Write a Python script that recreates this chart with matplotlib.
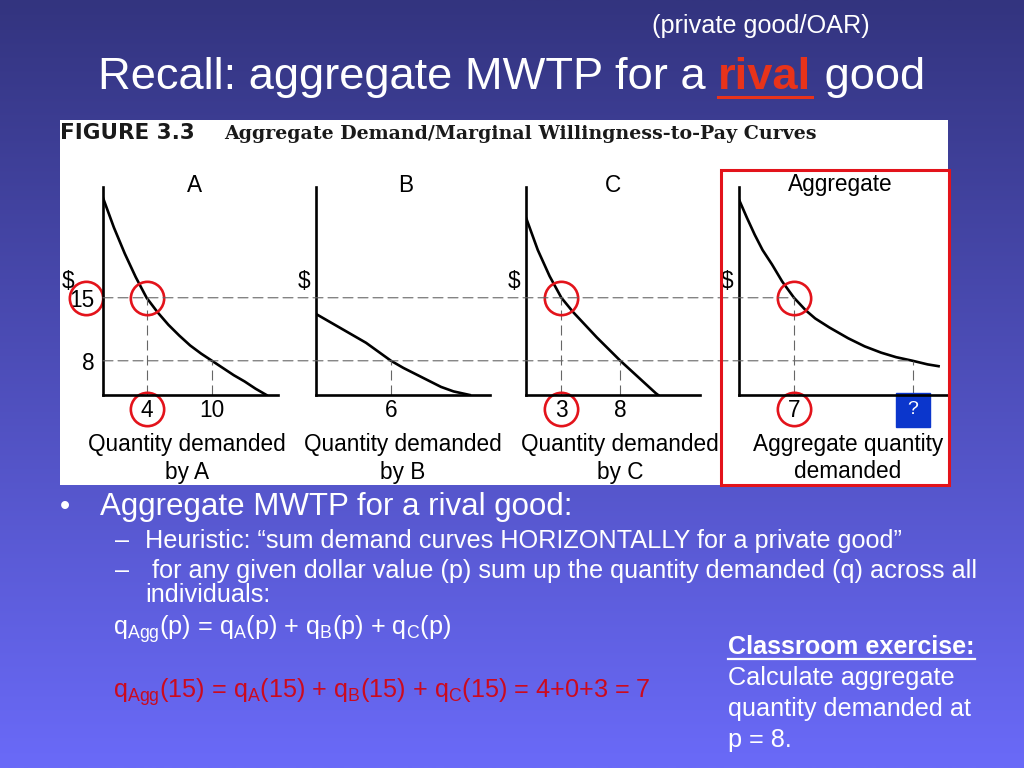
import numpy as np
import matplotlib
matplotlib.use('Agg')
import matplotlib.pyplot as plt
from matplotlib.patches import Rectangle, ConnectionPatch
from matplotlib.lines import Line2D

plt.rcParams['font.family'] = ['Liberation Sans', 'DejaVu Sans']
plt.rcParams['mathtext.fontset'] = 'custom'
plt.rcParams['mathtext.rm'] = 'Liberation Sans'
plt.rcParams['mathtext.it'] = 'Liberation Sans'
plt.rcParams['mathtext.bf'] = 'Liberation Sans:bold'

W, H = 1024, 768


def box(x0, y0, x1, y1):
    # pixel box (top-left origin) -> figure rect
    return [x0 / W, 1 - y1 / H, (x1 - x0) / W, (y1 - y0) / H]


def fx(x):
    return x / W


def fy(y):
    return 1 - y / H


# demand curves: quantity, price
qA = [0, 1, 2, 3, 4, 5, 6, 7, 8, 9, 10, 11, 12, 13, 14, 15]
pA = [26.1, 22.8, 19.9, 17.3, 15.0, 13.4, 12.0, 10.8, 9.7, 8.8, 8.0, 7.2, 6.4, 5.7, 4.9, 4.2]
qB = [0, 1, 2, 3, 4, 5, 6, 7, 8, 9, 10, 11, 12.3]
pB = [13.2, 12.4, 11.6, 10.8, 10.0, 9.0, 8.0, 7.2, 6.5, 5.8, 5.1, 4.6, 4.2]
qC = [0, 1, 2, 3, 4, 5, 6, 7, 8, 9, 10, 11, 11.2]
pC = [23.9, 20.3, 17.4, 15.0, 13.4, 12.0, 10.6, 9.3, 8.0, 6.8, 5.6, 4.4, 4.2]
qAgg = [0, 1, 2, 3, 4.2, 5.5, 7, 8.5, 9.7, 11.5, 13.9, 16, 18.1, 20, 22.1, 24, 25.4]
pAgg = [25.9, 23.9, 22.0, 20.3, 18.7, 16.8, 15.0, 13.6, 12.7, 11.7, 10.5, 9.6, 8.9, 8.4, 8.0, 7.6, 7.4]

panel_names = ['A', 'B', 'C', 'Aggregate']
curves_q = [qA, qB, qC, qAgg]
curves_p = [pA, pB, pC, pAgg]

prices = [15, 8]
q_at_15 = [4, 0, 3, 7]        # quantity demanded at p = 15
q_at_8 = [10, 6, 8, 22.1]     # quantity demanded at p = 8 (aggregate is the unknown)
xtick_labels = [['4', '10'], ['6'], ['3', '8'], ['7', '?']]
xlabels = [['Quantity demanded', 'by A'], ['Quantity demanded', 'by B'],
           ['Quantity demanded', 'by C'], ['Aggregate quantity', 'demanded']]

# layout (pixels)
panel_px = [(103, 187, 278, 395), (316, 187, 490, 395),
            (526, 187, 700, 395), (739, 187, 948, 395)]
x_max = [16.06, 13.92, 14.75, 26.6]
y_lim = (4.2, 27.3)
title_x = [195, 406, 613, 840]
xlabel_x = [187, 403, 620, 848]
dollar_x = [68, 304, 514, 727]

red = '#e3131b'
dash = (0, (9, 4.5))
fs_panel = 16.3
fs_body = 18.2

fig = plt.figure(figsize=(W / 100, H / 100), dpi=100)

# slide background gradient
bg = fig.add_axes([0, 0, 1, 1], zorder=-10)
grad = np.linspace(0, 1, 256)[:, None]
top = np.array([0x33, 0x34, 0x7f]) / 255
bot = np.array([0x6a, 0x6a, 0xf8]) / 255
img = top[None, None, :] * (1 - grad[..., None]) + bot[None, None, :] * grad[..., None]
bg.imshow(img, aspect='auto', extent=[0, 1, 0, 1])
bg.set_xlim(0, 1)
bg.set_ylim(0, 1)
bg.axis('off')

# white figure area
fig.add_artist(Rectangle((fx(60), fy(485)), (948 - 60) / W, (485 - 120) / H,
                         transform=fig.transFigure, facecolor='white',
                         edgecolor='none', zorder=-5))

axes = []
for i, name in enumerate(panel_names):
    ax = fig.add_axes(box(*panel_px[i]))
    ax.patch.set_alpha(0)
    ax.plot(curves_q[i], curves_p[i], color='black', lw=1.9)
    ax.set_xlim(0, x_max[i])
    ax.set_ylim(*y_lim)
    for s in ['top', 'right']:
        ax.spines[s].set_visible(False)
    for s in ['left', 'bottom']:
        ax.spines[s].set_linewidth(1.9)
    # drop lines
    if q_at_15[i] > 0:
        ax.vlines(q_at_15[i], y_lim[0], 15, colors='#666666', lw=0.8, linestyles=[dash])
    ax.vlines(q_at_8[i], y_lim[0], 8, colors='#666666', lw=0.8, linestyles=[dash])
    ticks = [q for q in [q_at_15[i], q_at_8[i]] if q > 0]
    if name == 'Aggregate':
        ax.set_xticks(ticks[:1], xtick_labels[i][:1])
        ax.plot([q_at_8[i]], [-0.072], transform=ax.get_xaxis_transform(), marker='s',
                ms=24, color='#0b36cc', clip_on=False)
        ax.text(q_at_8[i], -0.072, xtick_labels[i][1], transform=ax.get_xaxis_transform(),
                ha='center', va='center', color='white', fontsize=14)
    else:
        ax.set_xticks(ticks, xtick_labels[i])
    if i == 0:
        ax.set_yticks(prices, [str(p) for p in prices])
    else:
        ax.set_yticks([])
    ax.tick_params(length=0, labelsize=fs_panel, pad=3)
    ax.tick_params(axis='y', pad=6)
    # circles
    if i in (0, 2, 3):
        ax.plot([q_at_15[i]], [15], 'o', ms=24, mfc='none', mec=red, mew=1.9, clip_on=False)
        ax.plot([q_at_15[i]], [-0.067], 'o', ms=24, mfc='none', mec=red, mew=1.9,
                transform=ax.get_xaxis_transform(), clip_on=False)
    if i == 0:
        ax.plot([-0.1], [15], 'o', ms=24, mfc='none', mec=red, mew=1.9,
                transform=ax.get_yaxis_transform(), clip_on=False)
    axes.append(ax)

    fig.text(fx(title_x[i]), fy(185), name, ha='center', va='center', fontsize=fs_panel)
    fig.text(fx(dollar_x[i]), fy(281), '\\$', ha='center', va='center', fontsize=fs_panel)
    fig.text(fx(xlabel_x[i]), fy(445), xlabels[i][0], ha='center', va='center', fontsize=fs_panel)
    fig.text(fx(xlabel_x[i]), fy(472), xlabels[i][1], ha='center', va='center', fontsize=fs_panel)

# horizontal dashed price lines across the panels
for p, qend in zip(prices, [q_at_15[3], q_at_8[3]]):
    con = ConnectionPatch(xyA=(0, p), coordsA=axes[0].transData,
                          xyB=(qend, p), coordsB=axes[3].transData,
                          color='#666666', lw=0.8, linestyle=dash)
    fig.add_artist(con)

# red frame around aggregate panel
fig.add_artist(Rectangle((fx(721), fy(485)), (949 - 721) / W, (485 - 170) / H,
                         transform=fig.transFigure, facecolor='none',
                         edgecolor=red, lw=2.2, zorder=5))

# figure header
fig.text(fx(60), fy(139), 'FIGURE 3.3', fontsize=15.5, weight='bold', va='baseline',
         color='#1a1a1a', family='DejaVu Sans')
fig.text(fx(224), fy(139), 'Aggregate Demand/Marginal Willingness-to-Pay Curves',
         fontsize=13.7, weight='bold', va='baseline', color='#1a1a1a', family='DejaVu Serif')

# slide title
fig.text(fx(652), fy(33), '(private good/OAR)', fontsize=18.2, color='white', va='baseline')
t1 = fig.text(fx(98), fy(89), 'Recall: aggregate MWTP for a ', fontsize=32.6,
              color='white', va='baseline')
t2 = bg.annotate('rival', xy=(1, 0), xycoords=t1, va='bottom', fontsize=32.6,
                 weight='bold', color='#e8331a')
t3 = bg.annotate(' good', xy=(1, 0), xycoords=t2, va='bottom', fontsize=32.6, color='white')

# bullet text
fig.text(fx(60), fy(515), '•', fontsize=21, color='white', va='baseline')
fig.text(fx(100), fy(515), 'Aggregate MWTP for a rival good:', fontsize=22.5,
         color='white', va='baseline')
fig.text(fx(115), fy(548), '–', fontsize=fs_body, color='white', va='baseline')
fig.text(fx(145), fy(548), 'Heuristic: \u201csum demand curves HORIZONTALLY for a private good\u201d',
         fontsize=fs_body, color='white', va='baseline')
fig.text(fx(115), fy(578), '–', fontsize=fs_body, color='white', va='baseline')
fig.text(fx(145), fy(578), ' for any given dollar value (p) sum up the quantity demanded (q) across all',
         fontsize=fs_body, color='white', va='baseline')
fig.text(fx(145), fy(602), 'individuals:', fontsize=fs_body, color='white', va='baseline')
fig.text(fx(113), fy(635), r'q$_\mathrm{Agg}$(p) = q$_\mathrm{A}$(p) + q$_\mathrm{B}$(p) + q$_\mathrm{C}$(p)',
         fontsize=fs_body, color='white', va='baseline')
fig.text(fx(113), fy(698),
         r'q$_\mathrm{Agg}$(15) = q$_\mathrm{A}$(15) + q$_\mathrm{B}$(15) + q$_\mathrm{C}$(15) = 4+0+3 = 7',
         fontsize=fs_body, color='#cc0a1e', va='baseline')

t_ex = fig.text(fx(728), fy(654), 'Classroom exercise:', fontsize=fs_body, weight='bold',
                color='white', va='baseline')
fig.text(fx(728), fy(685), 'Calculate aggregate', fontsize=fs_body, color='white', va='baseline')
fig.text(fx(728), fy(716), 'quantity demanded at', fontsize=fs_body, color='white', va='baseline')
fig.text(fx(728), fy(747), 'p = 8.', fontsize=fs_body, color='white', va='baseline')

# underlines
fig.canvas.draw()
for t, y_px, lw in [(t2, 97, 2.2), (t_ex, 659, 1.6)]:
    bb = t.get_window_extent()
    fig.add_artist(Line2D([bb.x0 / W, bb.x1 / W], [fy(y_px), fy(y_px)],
                          transform=fig.transFigure, color=t.get_color(), lw=lw))

fig.savefig('out.png', dpi=100)
